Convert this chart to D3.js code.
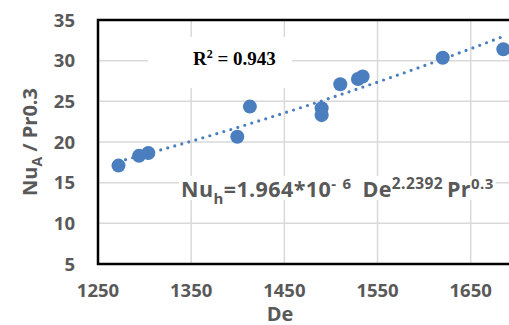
<!DOCTYPE html>
<html>
<head>
<meta charset="utf-8">
<script src="https://cdn.jsdelivr.net/npm/d3@7"></script>
<style>
  html, body { margin: 0; padding: 0; background: #fff; }
  svg { display: block; }
  .tick-lbl { font-family: "Open Sans", sans-serif; font-weight: 700; font-size: 18.5px; fill: #595959; }
  .axis-title { font-family: "Open Sans", sans-serif; font-weight: 700; font-size: 20px; fill: #595959; }
</style>
</head>
<body>
<svg id="chart" width="509" height="325"></svg>
<script>
// data
const deValues = [1272, 1294, 1304, 1399.5, 1413, 1490, 1490, 1510, 1529, 1534, 1620, 1685];
const nuValues = [17.1, 18.3, 18.65, 20.65, 24.35, 24.15, 23.3, 27.1, 27.75, 28.05, 30.35, 31.4];
const xTicks = [1250, 1350, 1450, 1550, 1650];
const yTicks = [5, 10, 15, 20, 25, 30, 35];
const r2Label = '0.943';

const svg = d3.select('#chart');
const x = d3.scaleLinear().domain([1250, 1700]).range([98, 517.3]);
const y = d3.scaleLinear().domain([5, 35]).range([264, 20]);
const blue = '#4a7ebf', grid = '#d9d9d9';

// gridlines
svg.append('g').selectAll('line.h').data(yTicks.slice(1, -1)).enter().append('line')
  .attr('x1', x(1250)).attr('x2', x(1700)).attr('y1', d => y(d)).attr('y2', d => y(d))
  .attr('stroke', grid).attr('stroke-width', 1.5);
svg.append('g').selectAll('line.v').data(xTicks.slice(1)).enter().append('line')
  .attr('x1', d => x(d)).attr('x2', d => x(d)).attr('y1', y(35)).attr('y2', y(5))
  .attr('stroke', grid).attr('stroke-width', 1.5);

// label backgrounds (they hide the gridlines)
svg.append('rect').attr('x', 148).attr('y', 37).attr('width', 144).attr('height', 51).attr('fill', '#fff');
const eqBg = svg.append('rect').attr('fill', '#fff');

// plot border
svg.append('rect').attr('x', x(1250)).attr('y', y(35))
  .attr('width', x(1700) - x(1250)).attr('height', y(5) - y(35))
  .attr('fill', 'none').attr('stroke', '#000').attr('stroke-width', 2.5);

// power trendline fitted in log space
const pts = deValues.map((d, i) => [Math.log(d), Math.log(nuValues[i])]);
const mx = d3.mean(pts, p => p[0]), my = d3.mean(pts, p => p[1]);
const b = d3.sum(pts, p => (p[0] - mx) * (p[1] - my)) / d3.sum(pts, p => (p[0] - mx) ** 2);
const a = Math.exp(my - b * mx);
const [dmin, dmax] = d3.extent(deValues);
const trend = d3.range(dmin, dmax + 1, 4).map(d => [d, a * Math.pow(d, b)]);
svg.append('path')
  .attr('d', d3.line().x(d => x(d[0])).y(d => y(d[1]))(trend))
  .attr('fill', 'none').attr('stroke', blue).attr('stroke-width', 3.2)
  .attr('stroke-linecap', 'round').attr('stroke-dasharray', '0 7.3');

// markers
svg.append('g').selectAll('circle').data(deValues).enter().append('circle')
  .attr('cx', d => x(d)).attr('cy', (d, i) => y(nuValues[i])).attr('r', 7)
  .attr('fill', blue);

// tick labels
svg.append('g').selectAll('text').data(yTicks).enter().append('text')
  .attr('class', 'tick-lbl').attr('x', 75).attr('y', d => y(d)).attr('dy', '0.36em')
  .attr('text-anchor', 'end').text(d => d);
svg.append('g').selectAll('text').data(xTicks).enter().append('text')
  .attr('class', 'tick-lbl').attr('x', d => x(d)).attr('y', 297)
  .attr('text-anchor', 'middle').text(d => d);

// axis titles
svg.append('text').attr('class', 'axis-title').attr('x', 280).attr('y', 320.5)
  .attr('text-anchor', 'middle').text('De');
const yt = svg.append('text').attr('class', 'axis-title').attr('text-anchor', 'middle')
  .attr('transform', 'translate(37,142) rotate(-90)');
yt.append('tspan').text('Nu');
yt.append('tspan').attr('dy', 5).style('font-size', '14px').text('A');
yt.append('tspan').attr('dy', -5).text(' / Pr0.3');

// R² label
const r2 = svg.append('text').attr('x', 193).attr('y', 65)
  .style('font-family', '"Liberation Serif", "Times New Roman", serif')
  .style('font-weight', 700).style('font-size', '19px').attr('fill', '#000');
r2.append('tspan').text('R');
r2.append('tspan').attr('dy', -7).style('font-size', '12px').text('2');
r2.append('tspan').attr('dy', 7).text(' = ' + r2Label);

// equation label
const eq = svg.append('text').attr('x', 181).attr('y', 197)
  .style('font-family', '"Open Sans", sans-serif').style('font-weight', 700)
  .style('font-size', '21.5px').style('letter-spacing', '0.4px').attr('fill', '#595959');
eq.append('tspan').text('Nu');
eq.append('tspan').attr('dy', 7).style('font-size', '15px').text('h');
eq.append('tspan').attr('dy', -7).text('=1.964*10');
eq.append('tspan').attr('dy', -8).style('font-size', '15px').text('-');
eq.append('tspan').attr('dx', 6).style('font-size', '15px').text('6');
eq.append('tspan').attr('dy', 8).attr('dx', 11).text('De');
eq.append('tspan').attr('dy', -8).style('font-size', '15.5px').text('2.2392');
eq.append('tspan').attr('dy', 8).attr('dx', 4).text('Pr');
eq.append('tspan').attr('dy', -8).style('font-size', '15px').text('0.3');
const bb = eq.node().getBBox();
eqBg.attr('x', bb.x - 2).attr('y', 176).attr('width', bb.width + 4).attr('height', 24);
</script>
</body>
</html>
